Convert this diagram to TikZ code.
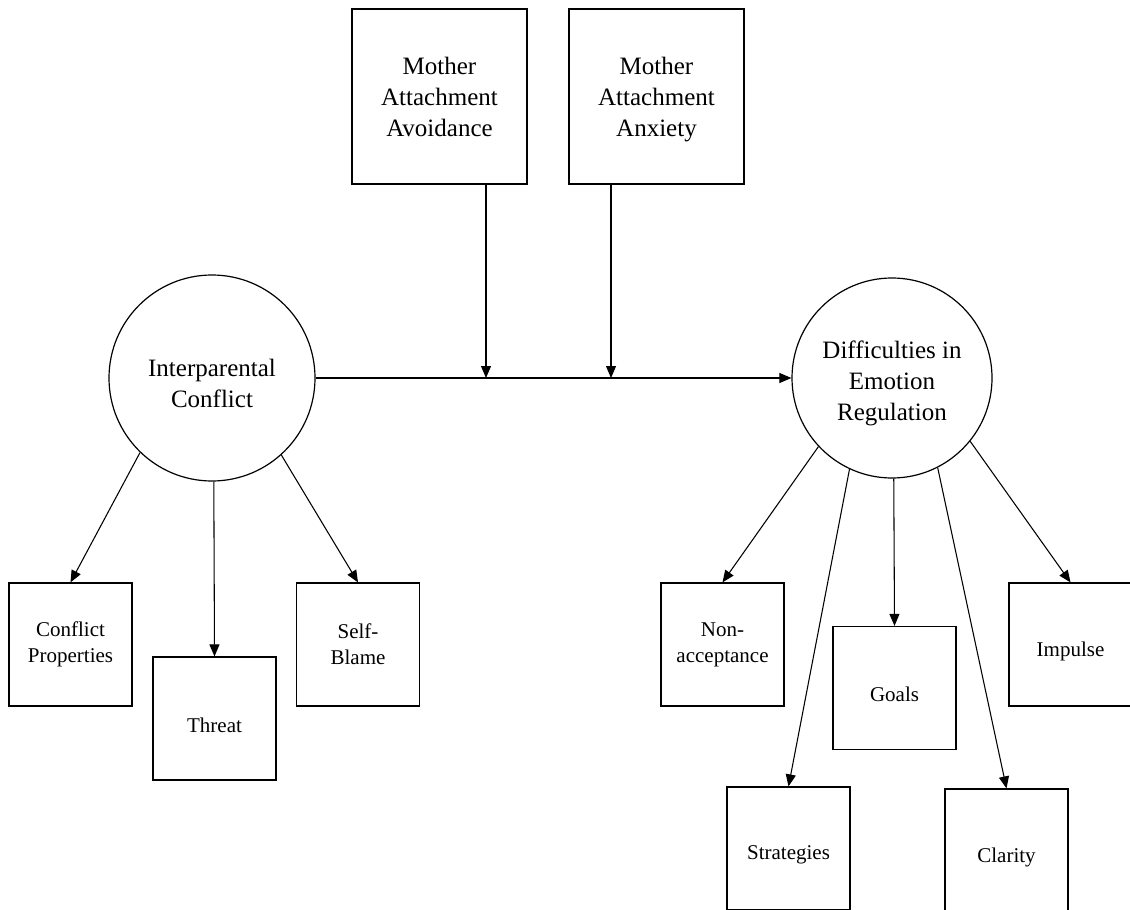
\documentclass[tikz,border=0pt]{standalone}
\usepackage{fontspec}
\setmainfont{Liberation Serif}
\usetikzlibrary{arrows.meta}

\tikzset{
  bigtext/.style={font=\fontsize{18.75pt}{23.25pt}\selectfont, align=center},
  smalltext/.style={font=\fontsize{15.75pt}{19.5pt}\selectfont, align=center},
  topbox/.style={draw, line width=0.9pt, minimum size=131.25pt, inner sep=0pt},
  toplabel/.style={bigtext, yshift=-2pt},
  latent/.style={draw, circle, line width=0.9pt, inner sep=0pt},
  latentlabel/.style={bigtext, yshift=-4pt},
  indicator/.style={draw, line width=0.9pt, minimum size=92.25pt, inner sep=0pt},
  itemlabel/.style={smalltext},
  oneline/.style={smalltext, yshift=-5pt},
  path arrow/.style={line width=0.8pt, -{Triangle[length=9pt, width=7.5pt]}}
}

\begin{document}
\begin{tikzpicture}[x=0.75pt, y=-0.75pt]
  \useasboundingbox (0,0) rectangle (1130,909);
  \fill[white] (0,0) rectangle (1130,909);

  % moderators
  \node[topbox, label={[toplabel]center:Mother\\Attachment\\Avoidance\vphantom{y}}] (avoid) at (439.5,96.5) {};
  \node[topbox, label={[toplabel]center:Mother\\Attachment\\Anxiety}] (anx) at (656.5,96.5) {};

  % latent variables
  \node[latent, minimum size=154.5pt,
        label={[latentlabel]center:Interparental\\Conflict}] (ipc) at (212,378) {};
  \node[latent, minimum size=150pt,
        label={[latentlabel]center:Difficulties in\\Emotion\\Regulation}] (der) at (892,378) {};

  % indicators of interparental conflict
  \node[indicator, label={[itemlabel]center:Conflict\\Properties}] (cp) at (70.5,644.5) {};
  \node[indicator, label={[oneline]center:Threat}] (threat) at (214.5,718.5) {};
  \node[indicator, label={[itemlabel]center:Self-\\Blame}] (sb) at (358,644.5) {};

  % indicators of emotion regulation difficulties
  \node[indicator, label={[itemlabel]center:Non-\\acceptance}] (nonacc) at (722.5,644.5) {};
  \node[indicator, label={[oneline]center:Goals}] (goals) at (894.5,688) {};
  \node[indicator, label={[oneline]center:Impulse}] (impulse) at (1070.5,644.5) {};
  \node[indicator, label={[oneline]center:Strategies}] (strat) at (788.5,848.5) {};
  \node[indicator, label={[oneline]center:Clarity}] (clarity) at (1006.5,850.5) {};

  % structural path with moderation points
  \coordinate (j1) at (486,378);
  \coordinate (j2) at (611,378);
  \draw[path arrow] (ipc.east) -- (der.west);
  \draw[path arrow] (avoid.south -| j1) -- (j1);
  \draw[path arrow] (anx.south -| j2) -- (j2);

  % measurement paths
  \draw[path arrow] (ipc.-134.6) -- (cp.north);
  \draw[path arrow] (ipc.-89)    -- (threat.north);
  \draw[path arrow] (ipc.-48.1)  -- (sb.north);

  \draw[path arrow] (der.-137.4) -- (nonacc.north);
  \draw[path arrow] (der.-115.8) -- (strat.north);
  \draw[path arrow] (der.-89)    -- (goals.north);
  \draw[path arrow] (der.-63.9)  -- (clarity.north);
  \draw[path arrow] (der.-39.4)  -- (impulse.north);
\end{tikzpicture}
\end{document}
